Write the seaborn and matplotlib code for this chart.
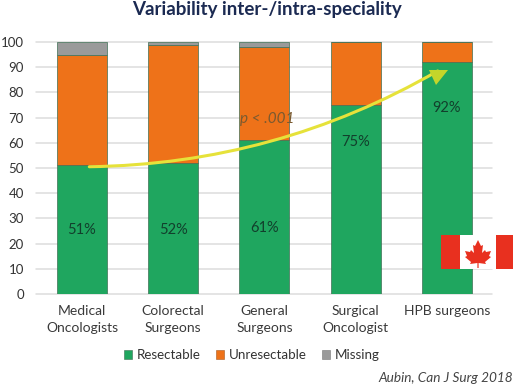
import seaborn as sns
import pandas as pd
import matplotlib
matplotlib.use('Agg')
import matplotlib.pyplot as plt
from matplotlib.patches import Patch, Polygon, Rectangle
from matplotlib.transforms import Affine2D

groups = ['Medical\nOncologists', 'Colorectal\nSurgeons', 'General\nSurgeons',
          'Surgical\nOncologist', 'HPB surgeons']
resectable = [51, 52, 61, 75, 92]
unresectable = [44, 47, 37, 25, 8]
missing = [5, 1, 2, 0, 0]
pct_labels = ['51%', '52%', '61%', '75%', '92%']
pct_y = [25.5, 25.5, 26, 60.5, 74]
yticks = [0, 10, 20, 30, 40, 50, 60, 70, 80, 90, 100]

GREEN = '#1fa65f'
ORANGE = '#ee7219'
GREY = '#9a9a9a'
W, H = 515, 387

sns.set_theme(style='white')
plt.rcParams['font.family'] = ['Lato', 'DejaVu Sans']

df = pd.DataFrame({'group': groups, 'res': resectable, 'unres': unresectable, 'miss': missing})

fig = plt.figure(figsize=(W / 100, H / 100), dpi=100)
ax = fig.add_axes([36.4 / W, 1 - 294 / H, 456 / W, 252 / H])

bottom = [0] * 5
for col, color in [('res', GREEN), ('unres', ORANGE), ('miss', GREY)]:
    sns.barplot(data=df, x='group', y=col, color=color, width=0.55, saturation=1,
                bottom=bottom, ax=ax, edgecolor='#3f6f55', linewidth=0.5, zorder=3)
    bottom = [b + v for b, v in zip(bottom, df[col])]

ax.set_xlim(-0.5, 4.5)
ax.set_ylim(0, 100)
ax.set_yticks(yticks)
ax.set_xlabel('')
ax.set_ylabel('')
for t in yticks:
    ax.axhline(t, color='#dddddd', linewidth=1.1, zorder=1.5, clip_on=False)
ax.tick_params(axis='y', length=0, labelsize=9.5, labelcolor='#333333', pad=9)
ax.tick_params(axis='x', length=0, labelsize=10, labelcolor='#3a3a3a', pad=8)
for lab in ax.get_xticklabels():
    lab.set_verticalalignment('top')
    lab.set_linespacing(1.45)
sns.despine(ax=ax, left=True, bottom=True)

for i, txt in enumerate(pct_labels):
    ax.text(i, pct_y[i], txt, ha='center', va='center', fontsize=10.5, color='#123f2c', zorder=5)

ax.text(2.03, 69.5, 'p < .001', fontsize=11, style='italic', color='#7a5a30',
        ha='center', va='center', zorder=6)

# trend arrow
ax.annotate('', xy=(3.9, 88.5), xytext=(0.08, 50.5), zorder=7,
            arrowprops=dict(arrowstyle='-', connectionstyle='arc3,rad=0.13',
                            color='#e6e23a', linewidth=2.2, shrinkA=0, shrinkB=0))

fig.text(267 / W, 1 - 9 / H, 'Variability inter-/intra-speciality', ha='center', va='center',
         fontsize=13.5, fontweight='bold', color='#1b2a52')

handles = [Patch(facecolor=GREEN, edgecolor='#3f6f55', linewidth=0.4, label='Resectable'),
           Patch(facecolor=ORANGE, edgecolor='#a85a20', linewidth=0.4, label='Unresectable'),
           Patch(facecolor=GREY, edgecolor='#777777', linewidth=0.4, label='Missing')]
fig.legend(handles=handles, ncol=3, frameon=False, fontsize=9.6, labelcolor='#333333',
           loc='center', bbox_to_anchor=(251.5 / W, 1 - 355 / H), handlelength=0.6,
           handleheight=0.7, handletextpad=0.35, columnspacing=1.15)

fig.text(513 / W, 1 - 378 / H, 'Aubin, Can J Surg 2018', ha='right', va='center',
         fontsize=9.85, style='italic', color='#444444')

# figure pixels with origin at the top left
px = Affine2D().scale(1, -1).translate(0, H) + Affine2D().scale(1 / W, 1 / H) + fig.transFigure

# arrow head
fig.add_artist(Polygon([(429, 70), (448, 70), (436, 85)], closed=True, transform=px,
                       facecolor='#c4d52a', edgecolor='none', zorder=8))

# Canadian flag
RED = '#e8301f'
for x0, x1, c in [(441, 460, RED), (460, 496, 'white'), (496, 513, RED)]:
    fig.add_artist(Rectangle((x0, 235), x1 - x0, 34, transform=px, facecolor=c,
                             edgecolor='none', zorder=8))
leaf = [(0, -13), (3, -7), (5, -8), (4, 0), (7, -3), (8, -1), (13, -2), (11, 3), (13, 4),
        (7, 9), (8, 11), (0.6, 10), (0.6, 15), (-0.6, 15), (-0.6, 10), (-8, 11), (-7, 9),
        (-13, 4), (-11, 3), (-13, -2), (-8, -1), (-7, -3), (-4, 0), (-5, -8), (-3, -7)]
fig.add_artist(Polygon([(478 + a, 253 + b) for a, b in leaf], closed=True, transform=px,
                       facecolor=RED, edgecolor='none', zorder=9))

fig.savefig('out.png', dpi=100)
